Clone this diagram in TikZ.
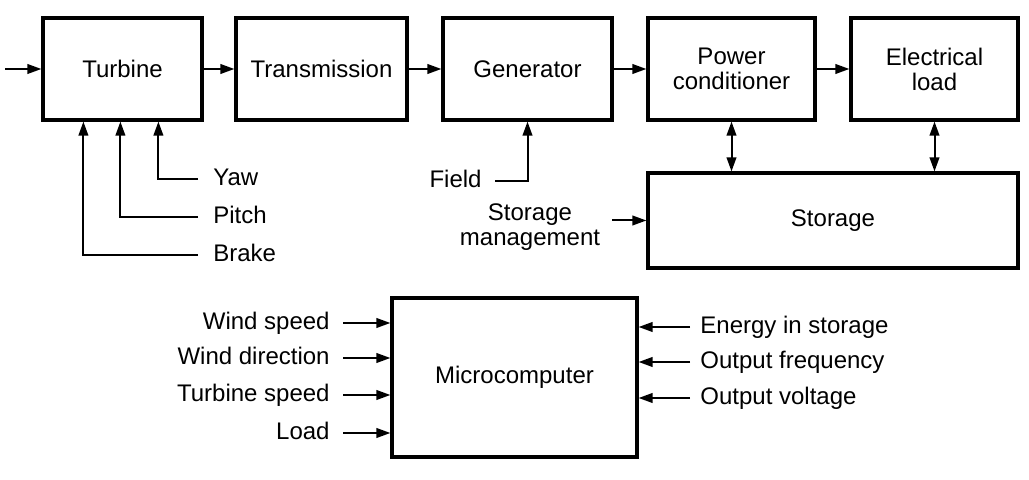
\documentclass[tikz,border=0pt]{standalone}
\usepackage{fontspec}
\setmainfont{Liberation Sans}
\usetikzlibrary{arrows.meta}
\begin{document}
\begin{tikzpicture}[x=0.5pt,y=-0.5pt,
  blk/.style={draw, line width=1.6pt, inner sep=0pt, align=center,
    font=\fontsize{12}{12.5}\selectfont},
  arr/.style={line width=1pt, -{Triangle[length=7pt,width=4.8pt]}},
  darr/.style={line width=1pt, {Triangle[length=7pt,width=4.8pt]}-{Triangle[length=7pt,width=4.8pt]}},
  lbl/.style={font=\fontsize{12}{12.5}\selectfont, inner sep=0pt, text height=9pt, text depth=2pt},
]
\useasboundingbox (0,0) rectangle (1029,480);

% top row
\node[blk, minimum width=79.5pt, minimum height=51pt] (turb) at (122.5,69) {Turbine};
\node[blk, minimum width=85.5pt, minimum height=51pt] (trans) at (321.5,69) {Transmission};
\node[blk, minimum width=84.5pt, minimum height=51pt] (gen) at (527.5,69) {Generator};
\node[blk, minimum width=83.5pt, minimum height=51pt] (pc) at (731.5,69) {Power\\conditioner};
\node[blk, minimum width=83.5pt, minimum height=51pt] (el) at (934.5,69) {Electrical\\load};
\node[blk, minimum width=185pt, minimum height=47.5pt] (stor) at (833,220.5) {Storage};
\node[blk, minimum width=122.5pt, minimum height=79.5pt] (micro) at (514.5,377.5) {Microcomputer};

\coordinate (in) at (5,69);
\draw[arr] (in) -- (turb.west);
\draw[arr] (turb.east) -- (trans.west);
\draw[arr] (trans.east) -- (gen.west);
\draw[arr] (gen.east) -- (pc.west);
\draw[arr] (pc.east) -- (el.west);
\draw[darr] (pc.south) -- (pc.south |- stor.north);
\draw[darr] (el.south) -- (el.south |- stor.north);

% turbine controls
\node[lbl, anchor=west] (yaw) at (213,179) {Yaw};
\node[lbl, anchor=west] (pitch) at (213,217) {Pitch};
\node[lbl, anchor=west] (brake) at (213,255) {Brake};
\draw[arr] ([xshift=-7.5pt]yaw.west) -| ([xshift=58.5pt]turb.south west);
\draw[arr] ([xshift=-7.5pt]pitch.west) -| ([xshift=39.5pt]turb.south west);
\draw[arr] ([xshift=-7.5pt]brake.west) -| ([xshift=21pt]turb.south west);

% field
\node[lbl, anchor=east] (field) at (482,181) {Field};
\draw[arr] ([xshift=6.5pt]field.east) -| (gen.south);

% storage management
\node[lbl, align=center, text height=, text depth=] (sm) at (530,227) {Storage\\management};
\draw[arr] ([xshift=6pt]sm.east |- stor.west) -- (stor.west);

% microcomputer inputs
\node[lbl, anchor=east] (ws) at (330,323) {Wind speed};
\node[lbl, anchor=east] (wd) at (330,358) {Wind direction};
\node[lbl, anchor=east] (ts) at (330,395) {Turbine speed};
\node[lbl, anchor=east] (ld) at (330,433) {Load};
\draw[arr] ([xshift=6.5pt]ws.east) -- ([yshift=27.25pt]micro.west);
\draw[arr] ([xshift=6.5pt]wd.east) -- ([yshift=9.75pt]micro.west);
\draw[arr] ([xshift=6.5pt]ts.east) -- ([yshift=-8.75pt]micro.west);
\draw[arr] ([xshift=6.5pt]ld.east) -- ([yshift=-27.75pt]micro.west);

\node[lbl, anchor=west] (es) at (700,327) {Energy in storage};
\node[lbl, anchor=west] (of) at (700,362) {Output frequency};
\node[lbl, anchor=west] (ov) at (700,398) {Output voltage};
\draw[arr] ([xshift=-5pt]es.west) -- ([yshift=25.25pt]micro.east);
\draw[arr] ([xshift=-5pt]of.west) -- ([yshift=7.75pt]micro.east);
\draw[arr] ([xshift=-5pt]ov.west) -- ([yshift=-10.25pt]micro.east);
\end{tikzpicture}
\end{document}
